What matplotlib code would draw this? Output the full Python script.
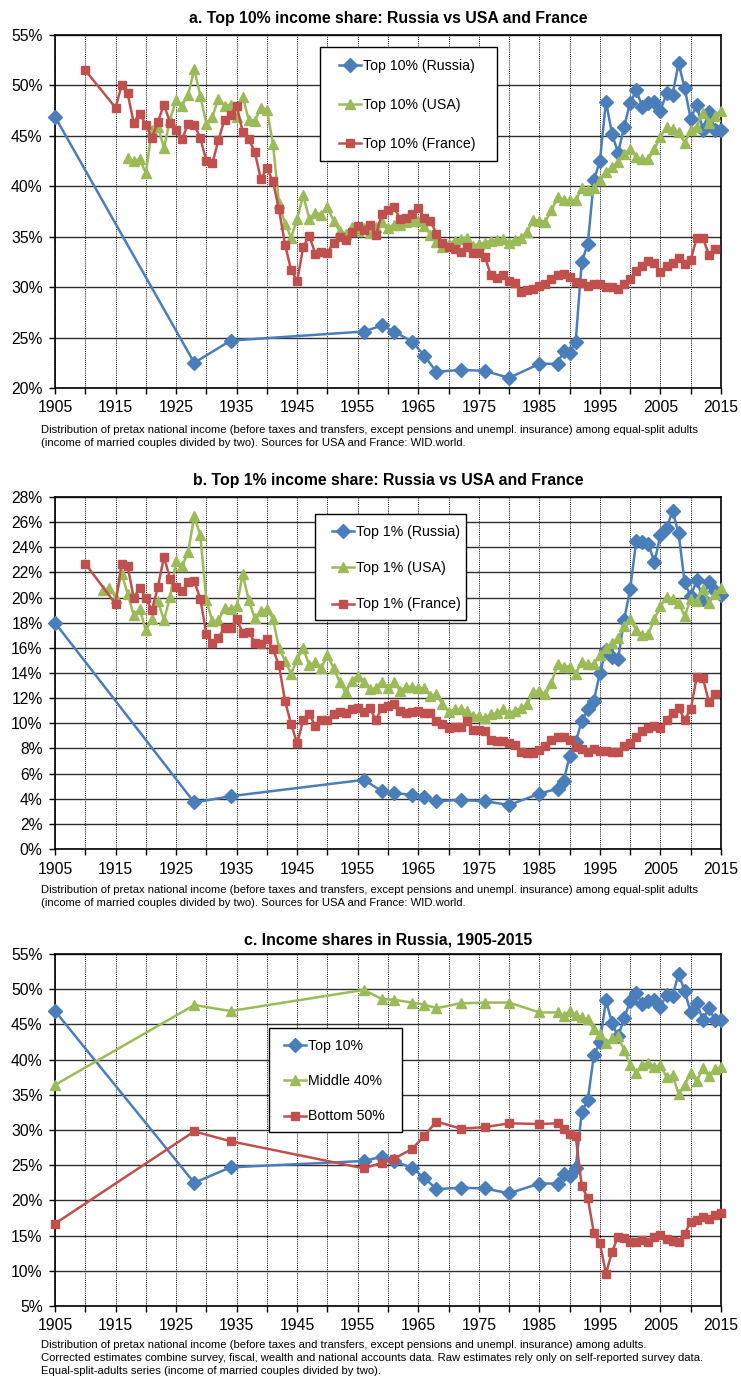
import matplotlib
matplotlib.use("Agg")
import matplotlib.pyplot as plt
from matplotlib.patches import Rectangle
from matplotlib.ticker import MultipleLocator, FixedLocator, FuncFormatter

plt.rcParams['font.family'] = ['Liberation Sans', 'DejaVu Sans']

# ---- data ----
ru_years = [1905, 1928, 1934, 1956, 1959, 1961, 1964, 1966, 1968, 1972, 1976, 1980,
            1985, 1988] + list(range(1989, 2016))
ru_top10 = [46.9, 22.5, 24.7, 25.6, 26.2, 25.6, 24.6, 23.2, 21.6, 21.8, 21.7, 21.0,
            22.4, 22.4,
            23.7, 23.5, 24.6, 32.5, 34.3, 40.6, 42.5, 48.4, 45.2, 43.3, 45.9, 48.3,
            49.5, 47.9, 48.3, 48.4, 47.5, 49.2, 49.1, 52.2, 49.7, 46.7, 48.1, 45.6,
            47.4, 45.6, 45.6]
ru_top1 = [18.0, 3.7, 4.2, 5.5, 4.6, 4.45, 4.3, 4.1, 3.8, 3.9, 3.8, 3.5, 4.4, 4.8,
           5.4, 7.4, 8.5, 10.2, 11.1, 11.8, 14.0, 15.8, 15.3, 15.1, 18.2, 20.7, 24.5,
           24.4, 24.3, 22.8, 25.0, 25.5, 26.9, 25.1, 21.2, 20.1, 21.4, 19.9, 21.2,
           20.5, 20.2]
ru_mid40 = [36.4, 47.75, 46.9, 49.9, 48.6, 48.5, 48.1, 47.8, 47.3, 48.0, 48.1, 48.1,
            46.7, 46.7,
            46.2, 46.9, 46.4, 46.0, 45.7, 44.3, 43.7, 42.3, 43.0, 43.3, 41.4, 39.2,
            38.1, 39.2, 39.5, 39.0, 39.2, 37.5, 37.8, 35.1, 36.4, 38.1, 36.9, 38.8,
            37.6, 38.6, 38.9]
ru_bot50 = [16.7, 29.8, 28.4, 24.55, 25.35, 25.95, 27.3, 29.2, 31.2, 30.2, 30.4, 30.95,
            30.85, 30.95,
            30.1, 29.5, 29.15, 22.05, 20.3, 15.4, 13.9, 9.6, 12.7, 14.85, 14.6, 14.1,
            14.1, 14.4, 14.1, 14.75, 15.1, 14.5, 14.3, 14.15, 15.25, 17.0, 17.2, 17.7,
            17.3, 17.9, 18.15]

us10_years = list(range(1917, 2016))
us_top10 = [42.85, 42.5, 42.7, 41.3, 45.6, 45.9, 43.8, 46.6, 48.6, 48.0,   # 1917-26
            49.1, 51.6, 49.0, 46.2, 46.9, 48.7, 48.0, 48.1, 46.9, 48.9,    # 1927-36
            46.6, 46.5, 47.8, 47.6, 44.2, 38.3, 36.3, 34.9, 36.8, 39.1,    # 1937-46
            36.8, 37.4, 37.2, 37.9, 36.6, 35.6, 35.3, 36.0, 35.6, 35.9,    # 1947-56
            35.4, 36.0, 36.5, 35.9, 36.2, 36.2, 36.5, 36.6, 36.6, 36.1,    # 1957-66
            35.2, 34.5, 34.0, 34.3, 34.6, 34.8, 34.9, 34.1, 34.3, 34.4,    # 1967-76
            34.6, 34.7, 34.8, 34.4, 34.7, 34.9, 35.5, 36.7, 36.6, 36.5,    # 1977-86
            37.6, 38.9, 38.6, 38.6, 38.6, 39.8, 39.6, 39.8, 40.6, 41.4,    # 1987-96
            41.9, 42.4, 43.2, 43.7, 42.9, 42.7, 42.7, 43.7, 44.9, 45.9,    # 1997-2006
            45.7, 45.4, 44.3, 45.6, 45.9, 47.3, 46.3, 47.0, 47.5]          # 2007-15

fr_years = [1910] + list(range(1915, 2015))
fr_top10 = [51.5,
            47.8, 50.0, 49.2, 46.3, 47.2, 46.1, 44.8, 46.4, 48.1, 46.3,    # 1915-24
            45.6, 44.7, 46.2, 46.1, 44.8, 42.5, 42.3, 44.6, 46.6, 47.1,    # 1925-34
            48.0, 45.4, 44.7, 43.4, 40.7, 41.8, 40.5, 37.7, 34.2, 31.7,    # 1935-44
            30.6, 34.0, 35.1, 33.3, 33.5, 33.4, 34.4, 35.0, 34.7, 35.5,    # 1945-54
            36.1, 35.7, 36.2, 35.2, 37.3, 37.6, 37.9, 36.8, 36.9, 37.3,    # 1955-64
            37.8, 36.9, 36.6, 35.3, 34.4, 34.0, 33.8, 33.5, 34.0, 33.4,    # 1965-74
            33.4, 33.0, 31.2, 30.9, 31.2, 30.6, 30.4, 29.5, 29.7, 29.8,    # 1975-84
            30.1, 30.3, 30.8, 31.2, 31.3, 31.0, 30.5, 30.4, 30.1, 30.3,    # 1985-94
            30.3, 30.0, 30.0, 29.8, 30.3, 30.8, 31.6, 32.1, 32.6, 32.4,    # 1995-2004
            31.5, 32.1, 32.4, 32.9, 32.3, 32.7, 34.9, 34.9, 33.2, 33.8]    # 2005-14

us1_years = list(range(1913, 2016))
us_top1 = [20.6, 20.8, 20.0, 21.9, 20.3, 18.6, 19.1,                      # 1913-19
           17.4, 18.3, 19.7, 18.2, 20.05, 22.9, 22.5, 23.65, 26.5, 24.95,   # 1920-29
           19.8, 18.1, 18.2, 19.15, 19.1, 19.3, 21.85, 19.8, 18.35, 18.9,   # 1930-39
           19.1, 18.3, 16.0, 14.95, 13.95, 15.1, 15.97, 14.6, 14.9, 14.4,   # 1940-49
           15.45, 14.4, 13.3, 12.45, 13.4, 13.8, 13.25, 12.7, 12.8, 13.3,   # 1950-59
           12.8, 13.25, 12.6, 12.9, 12.9, 12.8, 12.8, 12.2, 12.3, 11.5,     # 1960-69
           10.9, 11.1, 11.1, 11.0, 10.6, 10.6, 10.4, 10.7, 10.8, 11.1,      # 1970-79
           10.8, 11.0, 11.25, 11.5, 12.5, 12.6, 12.3, 13.2, 14.7, 14.5,     # 1980-89
           14.5, 13.9, 14.9, 14.7, 14.7, 15.4, 16.0, 16.4, 16.8, 17.7,      # 1990-99
           18.3, 17.4, 17.05, 17.1, 18.3, 19.3, 20.05, 19.85, 19.6, 18.5,   # 2000-09
           19.9, 19.7, 20.7, 19.6, 20.25, 20.8]                             # 2010-15

fr_top1 = [22.7,
           19.5, 22.7, 22.5, 19.95, 20.8, 19.95, 19.0, 20.85, 23.25, 21.5,  # 1915-24
           20.85, 20.5, 21.2, 21.3, 19.9, 17.1, 16.4, 16.8, 17.6, 17.6,     # 1925-34
           18.3, 17.2, 17.3, 16.4, 16.3, 16.7, 15.9, 14.6, 11.75, 9.93,     # 1935-44
           8.4, 10.3, 10.7, 9.8, 10.25, 10.3, 10.7, 10.9, 10.8, 11.1,       # 1945-54
           11.2, 10.9, 11.2, 10.3, 11.2, 11.4, 11.5, 10.95, 10.8, 10.9,     # 1955-64
           10.95, 10.8, 10.8, 10.15, 9.95, 9.6, 9.7, 9.7, 10.15, 9.5,       # 1965-74
           9.45, 9.35, 8.65, 8.6, 8.6, 8.4, 8.3, 7.7, 7.6, 7.65,            # 1975-84
           7.9, 8.2, 8.7, 8.9, 8.9, 8.7, 8.15, 7.95, 7.7, 7.95,             # 1985-94
           7.8, 7.8, 7.7, 7.7, 8.2, 8.4, 8.9, 9.35, 9.6, 9.8,               # 1995-2004
           9.6, 10.3, 10.8, 11.2, 10.3, 11.1, 13.7, 13.6, 11.7, 12.35]      # 2005-14

year_ticks = list(range(1905, 2016, 10))

note_ab = ["Distribution of pretax national income (before taxes and transfers, except pensions and unempl. insurance) among equal-split adults",
           "(income of married couples divided by two). Sources for USA and France: WID.world."]
note_c = ["Distribution of pretax national income (before taxes and transfers, except pensions and unempl. insurance) among adults.",
          "Corrected estimates combine survey, fiscal, wealth and national accounts data. Raw estimates rely only on self-reported survey data.",
          "Equal-split-adults series (income of married couples divided by two)."]

BLUE, GREEN, RED = "#4A7EBB", "#9BBB59", "#C0504D"

W, H = 741, 1379
fig = plt.figure(figsize=(W / 100, H / 100), dpi=100)


def px_axes(left, top, right, bottom):
    return fig.add_axes([left / W, 1 - bottom / H, (right - left) / W, (bottom - top) / H])


def style(ax, ymin, ymax, ystep):
    ax.set_xlim(1905, 2015)
    ax.set_ylim(ymin, ymax)
    ax.xaxis.set_major_locator(FixedLocator(year_ticks))
    ax.xaxis.set_minor_locator(MultipleLocator(5))
    ax.yaxis.set_major_locator(MultipleLocator(ystep))
    ax.yaxis.set_major_formatter(FuncFormatter(lambda v, p: f"{v:.0f}%"))
    ax.tick_params(axis="both", which="both", direction="out", length=4, width=1,
                   labelsize=11.3, color="black")
    ax.tick_params(axis="x", which="major", pad=5)
    ax.tick_params(axis="y", pad=5)
    ax.grid(axis="y", color="#303030", linewidth=1, linestyle="-")
    ax.grid(axis="x", which="both", color="black", linewidth=0.7, linestyle=(0, (1, 1.2)))
    ax.set_axisbelow(True)
    for s in ax.spines.values():
        s.set_color("black")
        s.set_linewidth(1.2)


def line(ax, x, y, color, marker, ms, label):
    ax.plot(x, y, color=color, marker=marker, markersize=ms, linewidth=1.8,
            markeredgecolor=color, label=label, clip_on=False, zorder=3)


def legend(ax, box, handle_x, first_y, spacing):
    # box = (left, top, right, bottom) in figure pixels
    l, t, r, b = box
    ax.add_patch(Rectangle((l / W, 1 - b / H), (r - l) / W, (b - t) / H,
                           transform=fig.transFigure, facecolor="white",
                           edgecolor="black", linewidth=1.0, zorder=4, clip_on=False))
    lg = ax.legend(loc="upper left", bbox_to_anchor=(handle_x / W, 1 - (first_y - 7) / H),
                   bbox_transform=fig.transFigure, fontsize=10.2, frameon=False,
                   labelspacing=spacing, handlelength=1.55, handletextpad=0.12,
                   borderpad=0, borderaxespad=0)
    lg.set_zorder(5)


def notes(lines, y0):
    for i, t in enumerate(lines):
        fig.text(41 / W, 1 - (y0 + 12.8 * i) / H, t, fontsize=8.1, va="center", ha="left")


# ---- panel a ----
ax1 = px_axes(55, 35, 721, 388)
style(ax1, 20, 55, 5)
line(ax1, ru_years, ru_top10, BLUE, "D", 7.3, "Top 10% (Russia)")
line(ax1, us10_years, us_top10, GREEN, "^", 6.5, "Top 10% (USA)")
line(ax1, fr_years, fr_top10, RED, "s", 6.3, "Top 10% (France)")
legend(ax1, (320, 47, 497, 161), 339, 66, 1.75)
fig.text(388 / W, 1 - 18 / H, "a. Top 10% income share: Russia vs USA and France",
         fontsize=11.4, fontweight="bold", ha="center", va="center")
notes(note_ab, 430)

# ---- panel b ----
ax2 = px_axes(55, 497, 721, 849)
style(ax2, 0, 28, 2)
line(ax2, ru_years, ru_top1, BLUE, "D", 7.3, "Top 1% (Russia)")
line(ax2, us1_years, us_top1, GREEN, "^", 6.5, "Top 1% (USA)")
line(ax2, fr_years, fr_top1, RED, "s", 6.3, "Top 1% (France)")
legend(ax2, (315, 514, 466, 620), 332, 532, 1.57)
fig.text(388 / W, 1 - 480 / H, "b. Top 1% income share: Russia vs USA and France",
         fontsize=11.4, fontweight="bold", ha="center", va="center")
notes(note_ab, 890)

# ---- panel c ----
ax3 = px_axes(55, 954, 721, 1306)
style(ax3, 5, 55, 5)
line(ax3, ru_years, ru_top10, BLUE, "D", 7.3, "Top 10%")
line(ax3, ru_years, ru_mid40, GREEN, "^", 6.5, "Middle 40%")
line(ax3, ru_years, ru_bot50, RED, "s", 6.3, "Bottom 50%")
legend(ax3, (269, 1028, 402, 1132), 284, 1046, 1.5)
fig.text(388 / W, 1 - 940 / H, "c. Income shares in Russia, 1905-2015",
         fontsize=11.4, fontweight="bold", ha="center", va="center")
notes(note_c, 1345)

fig.savefig("out.png", dpi=100)
